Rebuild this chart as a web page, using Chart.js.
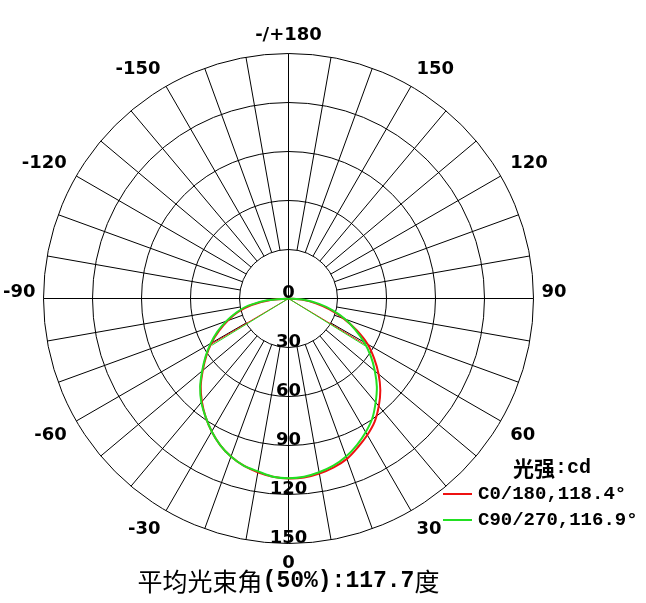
<!DOCTYPE html>
<html>
<head>
<meta charset="utf-8">
<script src="https://cdn.jsdelivr.net/npm/chart.js@4.4.1/dist/chart.umd.min.js"></script>
<style>
  html, body { margin: 0; padding: 0; background: #fff; }
  canvas { display: block; }
</style>
</head>
<body>
<canvas id="polar" width="646" height="603"></canvas>
<script>
// gamma angles in degrees, negative = left half of the diagram
const angles = [-90, -85, -80, -75, -70, -65, -60, -55, -50, -45, -40, -35, -30, -25, -20, -15, -10, -5,
    0, 5, 10, 15, 20, 25, 30, 35, 40, 45, 50, 55, 60, 65, 70, 75, 80, 85, 90];
// intensity in cd
const c0Values = [0, 11, 23, 32, 39.5, 47, 54.5, 61.5, 68.5, 76, 82.5, 88.5, 94, 99, 103, 106, 108, 109.5,
    110.2, 110, 108.8, 107, 104.5, 100.5, 96.5, 92, 86, 79.5, 72, 64, 56, 46, 36, 26, 17, 8, 0];
const c90Values = [0, 13, 25, 33, 40.5, 48, 55, 62, 69, 76.5, 83, 88.5, 94, 99, 103, 106, 107.5, 109.5,
    110, 109.5, 108, 106, 103, 99, 94.5, 89.5, 83, 76.5, 69, 61.5, 53.5, 45, 37, 28, 19, 9.5, 0];

// half-intensity (beam) angles, left and right
const c0Beam = [-59.4, 59.0];
const c90Beam = [-58.6, 58.3];
const c0Half = 55.1;
const c90Half = 55.0;

const seriesNames = ['C0/180,118.4°', 'C90/270,116.9°'];
const ringValues = [30, 60, 90, 120, 150];
const ringLabels = ['0', '30', '60', '90', '120', '150'];
const angleTicks = [0, 30, 60, 90, 120, 150, 180, -150, -120, -90, -60, -30];
const angleLabels = ['0', '30', '60', '90', '120', '150', '-/+180', '-150', '-120', '-90', '-60', '-30'];
const spokeStep = 10;
const unitLabel = ['光强', ':cd'];
const titleParts = ['平均光束角', '(50%):117.7', '度'];

const RED = '#ee1111';
const GREEN = '#22e022';

function toXY(a, v) {
    const t = a * Math.PI / 180;
    return { x: v * Math.sin(t), y: -v * Math.cos(t) };
}

function beamLine(b, h) {
    return [toXY(b[0], h), { x: 0, y: 0 }, toXY(b[1], h)];
}

function drawRun(ctx, parts, fonts, x, y, align) {
    let w = 0;
    parts.forEach((p, i) => { ctx.font = fonts[i]; w += ctx.measureText(p).width; });
    let cx = align === 'center' ? x - w / 2 : x;
    ctx.textAlign = 'left';
    parts.forEach((p, i) => {
        ctx.font = fonts[i];
        ctx.fillText(p, cx, y);
        cx += ctx.measureText(p).width;
    });
}

const polarGrid = {
    id: 'polarGrid',
    beforeDatasetsDraw(chart) {
        const { ctx, scales: { x, y } } = chart;
        const cx = x.getPixelForValue(0), cy = y.getPixelForValue(0);
        const px = v => x.getPixelForValue(v) - cx;
        const r0 = px(ringValues[0]);
        const r1 = px(ringValues[ringValues.length - 1]);
        ctx.save();
        ctx.strokeStyle = '#000';
        ctx.lineWidth = 1;
        ringValues.forEach(v => {
            ctx.beginPath();
            ctx.arc(cx, cy, px(v), 0, Math.PI * 2);
            ctx.stroke();
        });
        for (let a = 0; a < 360; a += spokeStep) {
            const t = a * Math.PI / 180;
            const inner = a % 90 === 0 ? 0 : r0;
            ctx.beginPath();
            ctx.moveTo(cx + inner * Math.sin(t), cy + inner * Math.cos(t));
            ctx.lineTo(cx + r1 * Math.sin(t), cy + r1 * Math.cos(t));
            ctx.stroke();
        }
        ctx.restore();
    },
    afterDatasetsDraw(chart) {
        const { ctx, scales: { x, y } } = chart;
        const cx = x.getPixelForValue(0), cy = y.getPixelForValue(0);
        const px = v => x.getPixelForValue(v) - cx;
        const r1 = px(ringValues[ringValues.length - 1]);
        ctx.save();
        ctx.fillStyle = '#000';

        // ring values down the 0 axis
        ctx.font = 'bold 18px "DejaVu Sans"';
        ctx.textAlign = 'center';
        ctx.textBaseline = 'alphabetic';
        ringLabels.forEach((l, i) => {
            const r = i === 0 ? 0 : px(ringValues[i - 1]);
            ctx.fillText(l, cx, cy + r - 1);
        });

        // angle labels round the outside
        ctx.textAlign = 'center';
        ctx.textBaseline = 'middle';
        angleTicks.forEach((a, i) => {
            const t = a * Math.PI / 180;
            const s = Math.sin(t), c = Math.cos(t);
            const w = ctx.measureText(angleLabels[i]).width;
            const r = Math.abs(c) < 0.01 ? r1 + 8 : r1 + 11;
            const sx = Math.abs(s) < 0.01 ? 0 : Math.sign(s);
            const sy = Math.abs(c) < 0.01 ? -0.9 : (c > 0 ? 1.3 : 1) * Math.sign(c);
            ctx.fillText(angleLabels[i], cx + r * s + sx * w / 2, cy + r * c + sy * 7);
        });

        // legend
        ctx.textBaseline = 'middle';
        drawRun(ctx, unitLabel, ['bold 21px "Noto Sans CJK SC"', 'bold 20px "Liberation Mono"'], 513, 468, 'left');
        [[RED, 494], [GREEN, 520]].forEach(([col, ly], i) => {
            ctx.strokeStyle = col;
            ctx.lineWidth = 2;
            ctx.beginPath();
            ctx.moveTo(443, ly);
            ctx.lineTo(472, ly);
            ctx.stroke();
            ctx.font = 'bold 19px "Liberation Mono"';
            ctx.textAlign = 'left';
            ctx.fillText(seriesNames[i], 478, ly);
        });

        // title under the diagram
        drawRun(ctx, titleParts,
            ['25px "Noto Sans CJK SC"', 'bold 23px "Liberation Mono"', '25px "Noto Sans CJK SC"'],
            cx, 581, 'center');
        ctx.restore();
    }
};

const ctx = document.getElementById('polar');

new Chart(ctx, {
    type: 'scatter',
    data: {
        datasets: [{
            label: seriesNames[0],
            data: angles.map((a, i) => toXY(a, c0Values[i])),
            showLine: true,
            borderColor: RED,
            borderWidth: 2,
            pointRadius: 0,
            tension: 0.3,
            order: 1
        }, {
            label: seriesNames[1],
            data: angles.map((a, i) => toXY(a, c90Values[i])),
            showLine: true,
            borderColor: GREEN,
            borderWidth: 2,
            pointRadius: 0,
            tension: 0.3,
            order: 0
        }, {
            data: beamLine(c0Beam, c0Half),
            showLine: true,
            borderColor: RED,
            borderWidth: 1,
            pointRadius: 0,
            order: 3
        }, {
            data: beamLine(c90Beam, c90Half),
            showLine: true,
            borderColor: GREEN,
            borderWidth: 1,
            pointRadius: 0,
            order: 2
        }]
    },
    options: {
        responsive: false,
        maintainAspectRatio: false,
        devicePixelRatio: 1,
        animation: false,
        layout: {
            padding: { left: 43.5, right: 112.5, top: 53.5, bottom: 59.5 }
        },
        scales: {
            x: { type: 'linear', min: -150, max: 150, display: false },
            y: { type: 'linear', min: -150, max: 150, display: false }
        },
        plugins: {
            legend: { display: false },
            tooltip: { enabled: false }
        }
    },
    plugins: [polarGrid]
});
</script>
</body>
</html>
